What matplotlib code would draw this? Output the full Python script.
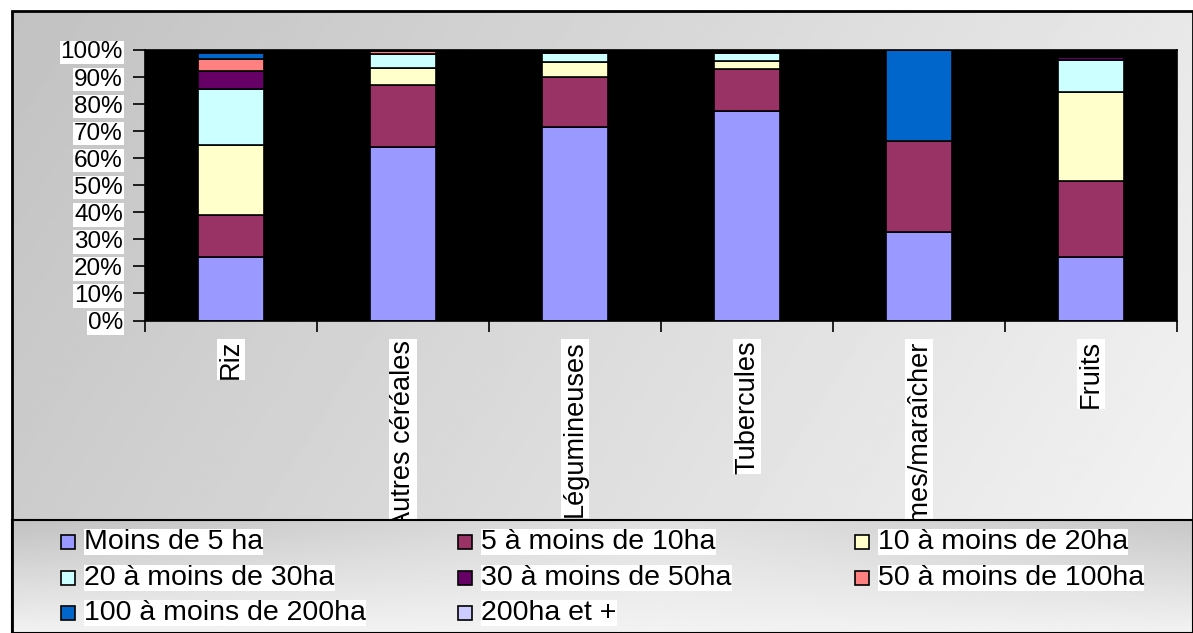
import numpy as np
import matplotlib.pyplot as plt
from matplotlib.patches import Rectangle
from matplotlib.transforms import Bbox

plt.rcParams['font.family'] = ['Liberation Sans', 'DejaVu Sans']

categories = ["Riz", "Autres céréales", "Légumineuses", "Tubercules",
              "Légumes/maraîcher", "Fruits"]
classes = ["Moins de 5 ha", "5 à moins de 10ha", "10 à moins de 20ha",
           "20 à moins de 30ha", "30 à moins de 50ha", "50 à moins de 100ha",
           "100 à moins de 200ha", "200ha et +"]
colors = ["#9999FF", "#993366", "#FFFFCC", "#CCFFFF",
          "#660066", "#FF8080", "#0066CC", "#CCCCFF"]

# % of surface per farm size class
moins_5 = [23.3, 64.1, 71.5, 77.5, 32.9, 23.3]
de_5_10 = [15.8, 23.0, 18.6, 15.6, 33.4, 28.2]
de_10_20 = [25.9, 6.1, 5.3, 2.9, 0, 32.8]
de_20_30 = [20.6, 5.2, 3.6, 3.0, 0, 12.0]
de_30_50 = [6.7, 0, 0, 0, 0, 1.1]
de_50_100 = [4.4, 1.2, 0, 0, 0, 0]
de_100_200 = [2.1, 0, 0, 0, 33.7, 0]
plus_200 = [0, 0, 0, 0, 0, 0]
series = [moins_5, de_5_10, de_10_20, de_20_30, de_30_50, de_50_100, de_100_200, plus_200]

W, H = 1193, 633
fig = plt.figure(figsize=(W / 100, H / 100), dpi=100)
fig.patch.set_facecolor('white')

# gradient background of the chart area
bg = fig.add_axes([12 / W, 0, 1 - 12 / W, 1 - 11 / H], zorder=-1)
yy, xx = np.mgrid[0:1:200j, 0:1:400j]
grad = 0.76 + 0.20 * (0.75 * xx + 0.25 * yy)
bg.imshow(grad, cmap='gray', vmin=0, vmax=1, aspect='auto', extent=[0, 1, 0, 1])
bg.set_axis_off()

# plot
ax = fig.add_axes([145 / W, 1 - 320.5 / H, (1177 - 145) / W, 270.5 / H])
ax.set_facecolor('black')
x = np.arange(len(categories))
bottom = np.zeros(len(categories))
for vals, col in zip(series, colors):
    ax.bar(x, vals, 0.385, bottom=bottom, color=col, edgecolor='black', linewidth=1.2)
    bottom += np.array(vals)

ax.set_xlim(-0.5, len(categories) - 0.5)
ax.set_ylim(0, 100)
ax.set_yticks(np.arange(0, 101, 10))
ax.set_yticklabels([f"{v}%" for v in range(0, 101, 10)], fontsize=17.5)
ax.tick_params(axis='y', length=9, width=1.2, pad=7)
ax.set_xticks(x)
ax.set_xticklabels(categories, rotation=90, fontsize=19.5, va='top', ha='center')
ax.tick_params(axis='x', which='major', length=0, pad=14)
ax.set_xticks(np.arange(-0.5, len(categories)), minor=True)
ax.tick_params(axis='x', which='minor', length=8, width=1.2)
for s in ax.spines.values():
    s.set_color('black')
    s.set_linewidth(1.2)
for lbl in ax.get_yticklabels() + ax.get_xticklabels():
    lbl.set_bbox(dict(facecolor='white', edgecolor='none', pad=0.5))

# category labels are cut off where the legend box starts
clip = Bbox.from_extents(0, H - 520, W, H)
for lbl in ax.get_xticklabels():
    lbl.set_clip_box(clip)
    lbl.set_clip_on(True)

# legend box
lg = fig.add_axes([12 / W, 0, 1 - 12 / W, 113 / H], zorder=5)
ly, lx = np.mgrid[0:1:100j, 0:1:400j]
lgrad = 0.95 - 0.22 * np.abs(lx - 0.55) * (1 - ly) - 0.07 * (1 - ly)
lg.imshow(lgrad, cmap='gray', vmin=0, vmax=1, aspect='auto', extent=[0, 1, 0, 1])
lg.set_xticks([])
lg.set_yticks([])
for s in lg.spines.values():
    s.set_linewidth(1.5)

col_x = [68, 465, 862]
row_y = [542, 578, 613]
for i, (name, col) in enumerate(zip(classes, colors)):
    px = col_x[i % 3]
    py = row_y[i // 3]
    fig.add_artist(Rectangle(((px - 7) / W, 1 - (py + 7) / H), 14 / W, 14 / H,
                             facecolor=col, edgecolor='black', linewidth=1.2,
                             transform=fig.transFigure, zorder=10))
    fig.text((px + 16) / W, 1 - py / H, name, fontsize=20.5, va='center', ha='left',
             zorder=10, bbox=dict(facecolor='white', edgecolor='none', pad=0.3))

# outer frame
fig.add_artist(Rectangle((12 / W, 0), 1 - 12 / W, 1 - 11 / H, fill=False,
                         edgecolor='black', linewidth=2, transform=fig.transFigure, zorder=20))

fig.savefig('out.png', dpi=100)
